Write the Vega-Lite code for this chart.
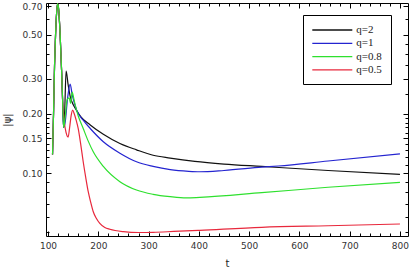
{
  "$schema": "https://vega.github.io/schema/vega-lite/v6.json",
  "width": 362,
  "height": 233,
  "autosize": "none",
  "padding": {"left": 46, "top": 3, "right": 7, "bottom": 41},
  "background": "white",
  "config": {
    "view": {"stroke": "black", "strokeWidth": 1},
    "axis": {
      "domain": false,
      "grid": false,
      "tickColor": "black",
      "labelFont": "DejaVu Sans",
      "labelFontSize": 9,
      "labelColor": "#333333",
      "titleFont": "DejaVu Sans",
      "titleFontSize": 10,
      "titleFontWeight": "normal",
      "titleColor": "#222222"
    }
  },
  "datasets": {
    "curves": [
      {"q": "q=2", "t": 109, "v": 0.124}, {"q": "q=2", "t": 111, "v": 0.2}, {"q": "q=2", "t": 113, "v": 0.35}, {"q": "q=2", "t": 115, "v": 0.5}, {"q": "q=2", "t": 117, "v": 0.64}, {"q": "q=2", "t": 119, "v": 0.72}, {"q": "q=2", "t": 121, "v": 0.68}, {"q": "q=2", "t": 124, "v": 0.51}, {"q": "q=2", "t": 127, "v": 0.33}, {"q": "q=2", "t": 129, "v": 0.234}, {"q": "q=2", "t": 131, "v": 0.17},
      {"q": "q=2", "t": 133, "v": 0.2}, {"q": "q=2", "t": 136, "v": 0.328}, {"q": "q=2", "t": 140, "v": 0.28}, {"q": "q=2", "t": 144, "v": 0.245}, {"q": "q=2", "t": 150, "v": 0.222}, {"q": "q=2", "t": 154, "v": 0.213}, {"q": "q=2", "t": 165, "v": 0.193}, {"q": "q=2", "t": 184, "v": 0.175}, {"q": "q=2", "t": 210, "v": 0.157}, {"q": "q=2", "t": 243, "v": 0.141}, {"q": "q=2", "t": 276, "v": 0.131}, {"q": "q=2", "t": 309, "v": 0.123}, {"q": "q=2", "t": 343, "v": 0.119}, {"q": "q=2", "t": 392, "v": 0.1145}, {"q": "q=2", "t": 450, "v": 0.111}, {"q": "q=2", "t": 525, "v": 0.108}, {"q": "q=2", "t": 657, "v": 0.103}, {"q": "q=2", "t": 800, "v": 0.0985},

      {"q": "q=1", "t": 109, "v": 0.124}, {"q": "q=1", "t": 111, "v": 0.2}, {"q": "q=1", "t": 113, "v": 0.35}, {"q": "q=1", "t": 115, "v": 0.5}, {"q": "q=1", "t": 117, "v": 0.64}, {"q": "q=1", "t": 119, "v": 0.72}, {"q": "q=1", "t": 121, "v": 0.68}, {"q": "q=1", "t": 124, "v": 0.51}, {"q": "q=1", "t": 127, "v": 0.33}, {"q": "q=1", "t": 129, "v": 0.234}, {"q": "q=1", "t": 131, "v": 0.17},
      {"q": "q=1", "t": 134, "v": 0.18}, {"q": "q=1", "t": 139, "v": 0.24}, {"q": "q=1", "t": 144, "v": 0.282}, {"q": "q=1", "t": 148, "v": 0.25}, {"q": "q=1", "t": 152, "v": 0.228}, {"q": "q=1", "t": 157, "v": 0.208}, {"q": "q=1", "t": 170, "v": 0.185}, {"q": "q=1", "t": 184, "v": 0.168}, {"q": "q=1", "t": 210, "v": 0.144}, {"q": "q=1", "t": 243, "v": 0.126}, {"q": "q=1", "t": 276, "v": 0.114}, {"q": "q=1", "t": 309, "v": 0.108}, {"q": "q=1", "t": 343, "v": 0.104}, {"q": "q=1", "t": 380, "v": 0.102}, {"q": "q=1", "t": 402, "v": 0.1015}, {"q": "q=1", "t": 450, "v": 0.103}, {"q": "q=1", "t": 525, "v": 0.107}, {"q": "q=1", "t": 558, "v": 0.1085}, {"q": "q=1", "t": 657, "v": 0.115}, {"q": "q=1", "t": 800, "v": 0.125},

      {"q": "q=0.5", "t": 109, "v": 0.124}, {"q": "q=0.5", "t": 111, "v": 0.2}, {"q": "q=0.5", "t": 113, "v": 0.35}, {"q": "q=0.5", "t": 115, "v": 0.5}, {"q": "q=0.5", "t": 117, "v": 0.64}, {"q": "q=0.5", "t": 119, "v": 0.72}, {"q": "q=0.5", "t": 121, "v": 0.68}, {"q": "q=0.5", "t": 124, "v": 0.51}, {"q": "q=0.5", "t": 127, "v": 0.33}, {"q": "q=0.5", "t": 129, "v": 0.234},
      {"q": "q=0.5", "t": 132, "v": 0.185}, {"q": "q=0.5", "t": 136, "v": 0.16}, {"q": "q=0.5", "t": 140, "v": 0.152}, {"q": "q=0.5", "t": 143, "v": 0.17}, {"q": "q=0.5", "t": 146, "v": 0.195}, {"q": "q=0.5", "t": 149, "v": 0.208}, {"q": "q=0.5", "t": 152, "v": 0.2}, {"q": "q=0.5", "t": 156, "v": 0.185}, {"q": "q=0.5", "t": 160, "v": 0.168}, {"q": "q=0.5", "t": 165, "v": 0.14}, {"q": "q=0.5", "t": 170, "v": 0.114}, {"q": "q=0.5", "t": 175, "v": 0.095}, {"q": "q=0.5", "t": 180, "v": 0.0804}, {"q": "q=0.5", "t": 185, "v": 0.071}, {"q": "q=0.5", "t": 190, "v": 0.0637}, {"q": "q=0.5", "t": 196, "v": 0.059}, {"q": "q=0.5", "t": 203, "v": 0.0556}, {"q": "q=0.5", "t": 213, "v": 0.053}, {"q": "q=0.5", "t": 223, "v": 0.0519}, {"q": "q=0.5", "t": 250, "v": 0.0505}, {"q": "q=0.5", "t": 280, "v": 0.05}, {"q": "q=0.5", "t": 309, "v": 0.0501}, {"q": "q=0.5", "t": 350, "v": 0.0506}, {"q": "q=0.5", "t": 402, "v": 0.0513}, {"q": "q=0.5", "t": 525, "v": 0.0531}, {"q": "q=0.5", "t": 657, "v": 0.0541}, {"q": "q=0.5", "t": 800, "v": 0.0552},

      {"q": "q=0.8", "t": 109, "v": 0.124}, {"q": "q=0.8", "t": 111, "v": 0.2}, {"q": "q=0.8", "t": 113, "v": 0.35}, {"q": "q=0.8", "t": 115, "v": 0.5}, {"q": "q=0.8", "t": 117, "v": 0.64}, {"q": "q=0.8", "t": 119, "v": 0.72}, {"q": "q=0.8", "t": 121, "v": 0.68}, {"q": "q=0.8", "t": 124, "v": 0.51}, {"q": "q=0.8", "t": 127, "v": 0.33}, {"q": "q=0.8", "t": 129, "v": 0.234}, {"q": "q=0.8", "t": 131, "v": 0.17},
      {"q": "q=0.8", "t": 134, "v": 0.19}, {"q": "q=0.8", "t": 138, "v": 0.235}, {"q": "q=0.8", "t": 142, "v": 0.24}, {"q": "q=0.8", "t": 145, "v": 0.225}, {"q": "q=0.8", "t": 148, "v": 0.257}, {"q": "q=0.8", "t": 151, "v": 0.24}, {"q": "q=0.8", "t": 154, "v": 0.221}, {"q": "q=0.8", "t": 160, "v": 0.195}, {"q": "q=0.8", "t": 170, "v": 0.168}, {"q": "q=0.8", "t": 180, "v": 0.145}, {"q": "q=0.8", "t": 190, "v": 0.128}, {"q": "q=0.8", "t": 210, "v": 0.108}, {"q": "q=0.8", "t": 243, "v": 0.0904}, {"q": "q=0.8", "t": 276, "v": 0.082}, {"q": "q=0.8", "t": 309, "v": 0.078}, {"q": "q=0.8", "t": 343, "v": 0.0759}, {"q": "q=0.8", "t": 375, "v": 0.0748}, {"q": "q=0.8", "t": 402, "v": 0.0753}, {"q": "q=0.8", "t": 525, "v": 0.0795}, {"q": "q=0.8", "t": 657, "v": 0.0847}, {"q": "q=0.8", "t": 800, "v": 0.0897}
    ]
  },
  "data": {"name": "curves"},
  "layer": [
    {
      "mark": {"type": "line", "clip": true, "strokeWidth": 1.2, "interpolate": "monotone"},
      "encoding": {
        "x": {"field": "t", "type": "quantitative",
              "scale": {"domain": [96, 816], "nice": false, "zero": false},
              "axis": {"orient": "bottom", "values": [100, 200, 300, 400, 500, 600, 700, 800], "format": "d", "tickSize": -5, "labelPadding": 10, "title": "t", "titlePadding": 8}},
        "y": {"field": "v", "type": "quantitative",
              "scale": {"type": "log", "domain": [0.048, 0.725], "nice": false},
              "axis": {"orient": "left", "values": [0.1, 0.15, 0.2, 0.3, 0.5, 0.7], "format": ".2f", "tickSize": -5, "labelPadding": 9, "title": "|ψ|", "titlePadding": 9}},
        "color": {"field": "q", "type": "nominal",
                  "scale": {"domain": ["q=2", "q=1", "q=0.8", "q=0.5"], "range": ["#111111", "#2424d0", "#2ee02e", "#e8283c"]},
                  "legend": {"orient": "none", "legendX": 257, "legendY": 12, "title": null, "symbolType": "M-1.14,0H6.86", "symbolSize": 100, "symbolStrokeWidth": 1.3, "symbolFillColor": "transparent", "labelFont": "Liberation Serif", "labelFontSize": 11, "labelColor": "#222222", "labelExpr": "datum.label + '\u00a0\u00a0\u00a0\u00a0'", "strokeColor": "black", "fillColor": "white", "padding": 9, "rowPadding": 2.3, "labelOffset": 32.3}}
      }
    },
    {
      "mark": {"type": "line", "opacity": 0},
      "encoding": {
        "x": {"field": "t", "type": "quantitative", "axis": {"orient": "top", "values": [100, 200, 300, 400, 500, 600, 700, 800], "labels": false, "tickSize": -5, "title": null}},
        "y": {"field": "v", "type": "quantitative", "axis": {"orient": "right", "values": [0.1, 0.15, 0.2, 0.3, 0.5, 0.7], "labels": false, "tickSize": -5, "title": null}}
      }
    },
    {
      "mark": {"type": "line", "opacity": 0},
      "encoding": {
        "x": {"field": "t", "type": "quantitative", "axis": {"orient": "bottom", "values": [120, 140, 160, 180, 220, 240, 260, 280, 320, 340, 360, 380, 420, 440, 460, 480, 520, 540, 560, 580, 620, 640, 660, 680, 720, 740, 760, 780], "labels": false, "tickSize": -3, "title": null}},
        "y": {"field": "v", "type": "quantitative", "axis": {"orient": "left", "values": [0.05, 0.06, 0.07, 0.08, 0.09, 0.11, 0.12, 0.13, 0.14, 0.16, 0.17, 0.18, 0.19, 0.25, 0.35, 0.4, 0.45, 0.6], "labels": false, "tickSize": -3, "title": null}}
      }
    },
    {
      "mark": {"type": "line", "opacity": 0},
      "encoding": {
        "x": {"field": "t", "type": "quantitative", "axis": {"orient": "top", "values": [120, 140, 160, 180, 220, 240, 260, 280, 320, 340, 360, 380, 420, 440, 460, 480, 520, 540, 560, 580, 620, 640, 660, 680, 720, 740, 760, 780], "labels": false, "tickSize": -3, "title": null}},
        "y": {"field": "v", "type": "quantitative", "axis": {"orient": "right", "values": [0.05, 0.06, 0.07, 0.08, 0.09, 0.11, 0.12, 0.13, 0.14, 0.16, 0.17, 0.18, 0.19, 0.25, 0.35, 0.4, 0.45, 0.6], "labels": false, "tickSize": -3, "title": null}}
      }
    }
  ],
  "resolve": {"axis": {"x": "independent", "y": "independent"}}
}
